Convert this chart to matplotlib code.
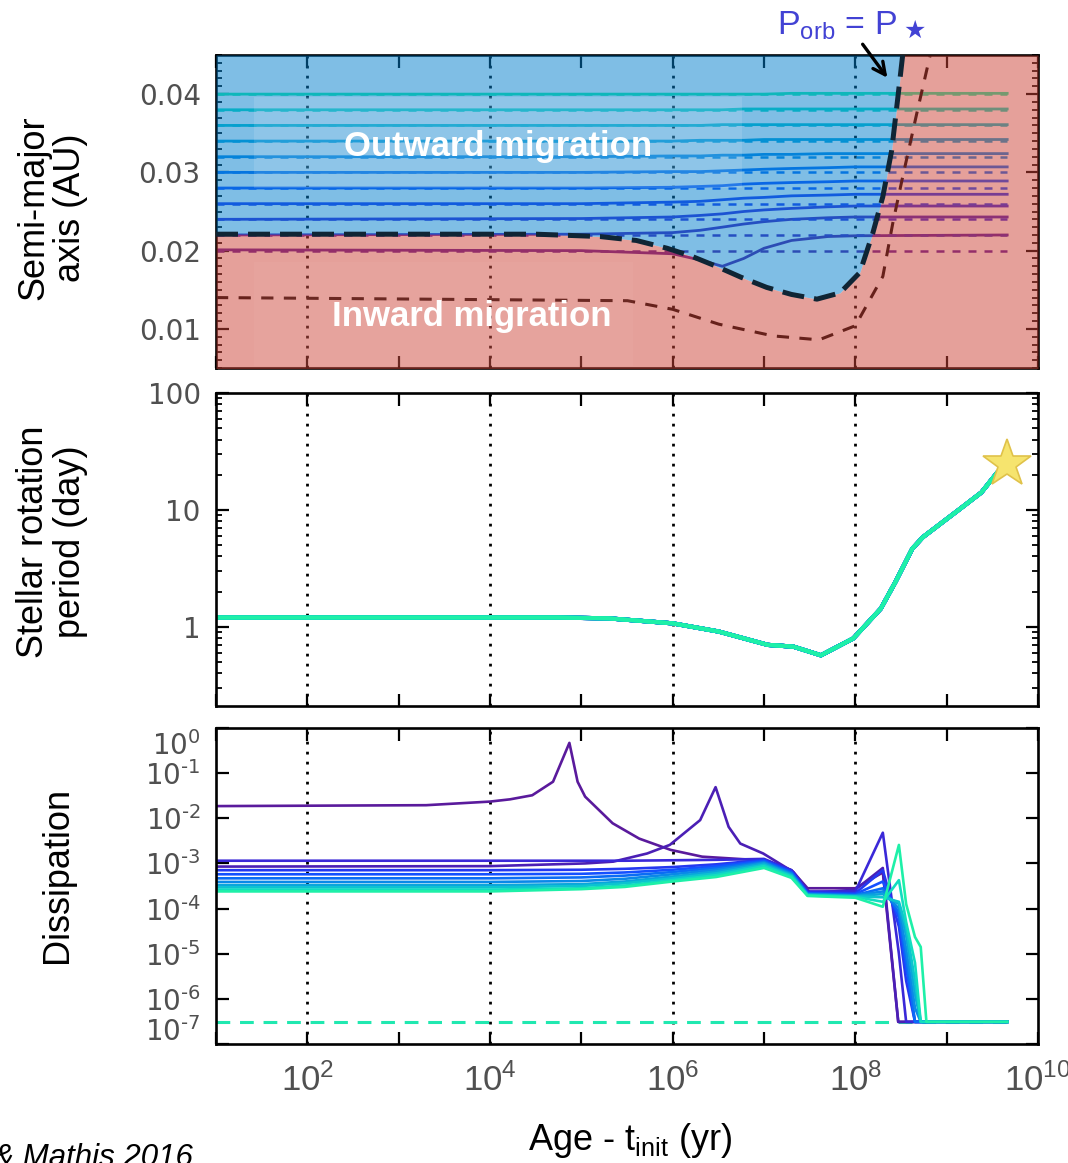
import numpy as np
import matplotlib
matplotlib.use("Agg")
import matplotlib.pyplot as plt
from matplotlib import font_manager as fm
from matplotlib import transforms as mtransforms
from matplotlib.patches import Rectangle, FancyArrowPatch
from matplotlib.ticker import (FixedLocator, FuncFormatter, MultipleLocator,
                               LogLocator, NullFormatter, NullLocator)


def first_font(*names):
    for name in names:
        try:
            fm.findfont(fm.FontProperties(family=name), fallback_to_default=False)
            return name
        except ValueError:
            continue
    return "DejaVu Sans"


SANS = first_font("Liberation Sans", "Arial", "DejaVu Sans")
NARROW = first_font("Liberation Sans Narrow", "Liberation Sans", "DejaVu Sans")
TICKFONT = "DejaVu Sans"

# ---------------------------------------------------------------- data
# initial semi-major axes of the planets (AU), innermost to outermost
a_init = [0.020, 0.022, 0.024, 0.026, 0.028, 0.030, 0.032, 0.034, 0.036, 0.038, 0.040]
planet_colors = ["#5A1A9C", "#4B1FB5", "#3A28D8", "#2438F0", "#1450FF", "#0A6CF5",
                 "#0A88E8", "#0AA5DC", "#0CC3D0", "#12DDC0", "#1EF0A8"]

# semi-major axis evolution with the dynamical tide (AU)
orbit_age = [1e1, 1e5, 1e6, 2e6, 3.5e6, 6e6, 1e7, 2e7, 5e7, 1e8, 4.6e9]
orbit_a = [
    [0.0201, 0.0200, 0.0196, 0.0188, 0.0180, 0.0190, 0.0203, 0.0213, 0.0218, 0.0219, 0.0220],
    [0.0220, 0.0221, 0.0223, 0.0226, 0.0230, 0.0234, 0.0237, 0.0240, 0.0242, 0.0243, 0.0243],
    [0.0240, 0.0241, 0.0243, 0.0245, 0.0247, 0.0250, 0.0252, 0.0254, 0.0256, 0.0257, 0.0257],
    [0.0260, 0.0260, 0.0262, 0.0263, 0.0265, 0.0267, 0.0268, 0.0270, 0.0271, 0.0272, 0.0272],
    [0.0280, 0.0280, 0.0281, 0.0282, 0.0283, 0.0285, 0.0286, 0.0287, 0.0288, 0.0289, 0.0289],
    [0.0300, 0.0300, 0.0301, 0.0301, 0.0302, 0.0303, 0.0304, 0.0305, 0.0306, 0.0307, 0.0307],
    [0.0320, 0.0320, 0.0321, 0.0321, 0.0322, 0.0322, 0.0323, 0.0323, 0.0324, 0.0324, 0.0324],
    [0.0340, 0.0340, 0.0340, 0.0341, 0.0341, 0.0341, 0.0342, 0.0342, 0.0342, 0.0342, 0.0342],
    [0.0360, 0.0360, 0.0360, 0.0360, 0.0361, 0.0361, 0.0361, 0.0361, 0.0361, 0.0361, 0.0361],
    [0.0380, 0.0380, 0.0380, 0.0380, 0.0380, 0.0381, 0.0381, 0.0381, 0.0381, 0.0381, 0.0381],
    [0.0400, 0.0400, 0.0400, 0.0400, 0.0400, 0.0400, 0.0400, 0.0401, 0.0401, 0.0401, 0.0401],
]
flat_age = [1e1, 4.6e9]

# corotation radius (P_orb = P_star), edge of the outward-migration region
corot_age = [1e1, 3.2e4, 1.6e5, 4e5, 8.7e5, 1.6e6, 3e6, 5.6e6, 1.07e7, 2e7, 3.8e7,
             6.8e7, 1.12e8, 1.55e8, 2e8, 2.5e8, 2.95e8, 3.3e8]
corot_a = [0.0221, 0.0221, 0.0218, 0.0213, 0.0203, 0.0193, 0.0180, 0.0166, 0.0153,
           0.0144, 0.0138, 0.0146, 0.0172, 0.0222, 0.0269, 0.0328, 0.0400, 0.0450]

# second reference orbit (thin dashed)
inner_age = [1e1, 3.2e5, 1e6, 3.2e6, 1.26e7, 4e7, 1e8, 2e8, 2.57e8, 3.24e8, 4.7e8, 6.6e8]
inner_a = [0.0140, 0.0136, 0.0125, 0.0106, 0.0091, 0.0086, 0.0104, 0.0167, 0.0235,
           0.0290, 0.0375, 0.0450]

# stellar rotation period (days)
period_age = [1e1, 5.6e4, 2e5, 1e6, 3.2e6, 1.1e7, 2.1e7, 4.2e7, 9.5e7, 1.9e8, 2.75e8,
              4.2e8, 5.5e8, 1.4e9, 2.4e9, 3.6e9, 4.6e9]
period_days = [1.2, 1.2, 1.18, 1.07, 0.91, 0.70, 0.676, 0.57, 0.795, 1.43, 2.42,
               4.65, 5.85, 10.2, 14.1, 21.0, 24.5]

# tidal dissipation, stored as log10 exponents
diss_age_a = [1e1, 2e3, 1e4, 1.66e4, 2.9e4, 4.9e4, 7.4e4, 9.1e4, 1.1e5, 2.2e5, 4.3e5,
              9.5e5, 2.1e6, 6.3e6, 1e7, 2e7, 3e7, 1e8, 2e8, 2.95e8, 4.6e9]
diss_exp_a = [-1.73, -1.71, -1.63, -1.58, -1.49, -1.19, -0.33, -1.19, -1.52, -2.11, -2.45,
              -2.70, -2.85, -2.91, -2.92, -3.15, -3.55, -3.55, -3.20, -6.51, -6.51]
diss_age_b = [1e1, 1e4, 1.1e5, 2.24e5, 5.25e5, 9.3e5, 2e6, 2.95e6, 4.1e6, 5.5e6, 9.8e6,
              2.1e7, 3.2e7, 1e8, 2e8, 2.95e8, 4.6e9]
diss_exp_b = [-3.07, -3.06, -3.00, -2.96, -2.78, -2.59, -2.04, -1.31, -2.19, -2.56, -2.78,
              -3.19, -3.66, -3.58, -3.10, -6.51, -6.51]
diss_age = [1e1, 1e4, 1e5, 3e5, 1e6, 3e6, 1e7, 2e7, 3e7, 1e8, 2e8, 3e8, 3.6e8, 4.5e8,
            5.2e8, 6e8, 4.6e9]
diss_exp = [
    [-2.94, -2.94, -2.94, -2.94, -2.93, -2.92, -2.90, -3.15, -3.62, -3.62, -2.32, -5.00, -6.51, -6.51, -6.51, -6.51, -6.51],
    [-3.15, -3.15, -3.14, -3.12, -3.08, -3.02, -2.92, -3.17, -3.64, -3.66, -3.15, -4.40, -5.60, -6.51, -6.51, -6.51, -6.51],
    [-3.24, -3.24, -3.23, -3.20, -3.14, -3.06, -2.94, -3.19, -3.66, -3.68, -3.40, -4.20, -5.30, -6.51, -6.51, -6.51, -6.51],
    [-3.33, -3.33, -3.31, -3.27, -3.19, -3.10, -2.96, -3.21, -3.67, -3.70, -3.55, -4.10, -5.10, -6.51, -6.51, -6.51, -6.51],
    [-3.41, -3.41, -3.39, -3.34, -3.24, -3.14, -2.98, -3.23, -3.68, -3.71, -3.62, -4.00, -4.90, -6.20, -6.51, -6.51, -6.51],
    [-3.48, -3.48, -3.46, -3.40, -3.29, -3.18, -3.00, -3.25, -3.69, -3.72, -3.68, -3.90, -4.60, -5.90, -6.51, -6.51, -6.51],
    [-3.53, -3.53, -3.50, -3.44, -3.33, -3.22, -3.03, -3.27, -3.70, -3.73, -3.75, -3.85, -4.40, -5.60, -6.51, -6.51, -6.51],
    [-3.58, -3.58, -3.55, -3.49, -3.37, -3.26, -3.06, -3.29, -3.71, -3.74, -3.85, -3.37, -4.30, -5.20, -6.51, -6.51, -6.51],
    [-3.62, -3.62, -3.57, -3.52, -3.40, -3.30, -3.10, -3.32, -3.72, -3.76, -3.96, -2.59, -3.90, -4.63, -4.85, -6.51, -6.51],
]
eq_diss_exp = -6.51

grid_ages = [1e2, 1e4, 1e6, 1e8]
decades = list(range(1, 11))

# ---------------------------------------------------------------- layout
W, H = 1068, 1163
fig = plt.figure(figsize=(W / 100, H / 100), dpi=100)
plt.rcParams["mathtext.default"] = "regular"


def rect(x0, y0, x1, y1):
    return [x0 / W, 1 - y1 / H, (x1 - x0) / W, (y1 - y0) / H]


def power_label(v):
    e = int(round(np.log10(v)))
    sign = "\u2010" if e < 0 else ""
    return r"$\mathregular{10^{%s%d}}$" % (sign, abs(e))


ax1 = fig.add_axes(rect(216, 55, 1038, 368))
ax2 = fig.add_axes(rect(216, 393, 1038, 706))
ax3 = fig.add_axes(rect(216, 728, 1038, 1044))

GRAY = "#505050"
for ax in (ax1, ax2, ax3):
    ax.set_xscale("log")
    ax.set_xlim(1e1, 1e10)
    ax.xaxis.set_major_locator(FixedLocator([10.0 ** d for d in decades]))
    ax.xaxis.set_minor_locator(NullLocator())
    for s in ax.spines.values():
        s.set_linewidth(1.9)
    ax.tick_params(which="major", direction="in", length=9, width=1.6, top=True,
                   right=True, labelsize=20, labelcolor=GRAY, pad=11,
                   labelfontfamily=TICKFONT)
    ax.tick_params(which="minor", direction="in", length=4.5, width=1.3, top=True,
                   right=True)
    for g in grid_ages:
        ax.axvline(g, color="black", lw=2.0, dashes=(1, 2.6), zorder=1)

ax1.tick_params(axis="x", labelbottom=False)
ax2.tick_params(axis="x", labelbottom=False)

# ---------------------------------------------------------------- top panel
YBOT, YTOP = 0.005, 0.045
ax1.set_ylim(YBOT, YTOP)
ax1.yaxis.set_major_locator(FixedLocator([0.01, 0.02, 0.03, 0.04]))
ax1.yaxis.set_major_formatter(FuncFormatter(lambda v, _: "%.2f" % v))
ax1.yaxis.set_minor_locator(MultipleLocator(0.001))

for a0, ages_a, col in zip(a_init, orbit_a, planet_colors):
    ax1.plot(flat_age, [a0, a0], color=col, lw=1.8, dashes=(3.2, 3.2), zorder=2)
    ax1.plot(orbit_age, ages_a, color=col, lw=2.0, zorder=2)
ax1.plot(inner_age, inner_a, color="black", lw=2.2, dashes=(4, 3.4), zorder=2)

ax1.fill_between(corot_age, corot_a, YTOP, color="#007FCD", alpha=0.5, lw=0, zorder=3)
ax1.fill_between(corot_age + [1e10], YBOT - 0.01, corot_a + [YTOP], color="#CD4337",
                 alpha=0.5, lw=0, zorder=3)
ax1.plot(corot_age, corot_a, color="#0F2535", lw=3.6, dashes=(4.4, 2.0), zorder=4)

ax1.add_patch(Rectangle((0.046, 0.575), 0.594, 0.291, transform=ax1.transAxes,
                        facecolor="white", alpha=0.12, lw=0, zorder=4))
ax1.add_patch(Rectangle((0.046, 0.006), 0.461, 0.333, transform=ax1.transAxes,
                        facecolor="white", alpha=0.04, lw=0, zorder=4))
ax1.text(0.343, 0.709, "Outward migration", transform=ax1.transAxes, ha="center",
         va="center", color="white", fontsize=25, fontweight="bold", family=SANS, zorder=5)
ax1.text(0.311, 0.163, "Inward migration", transform=ax1.transAxes, ha="center",
         va="center", color="white", fontsize=25, fontweight="bold", family=SANS, zorder=5)

# ---------------------------------------------------------------- middle panel
ax2.set_yscale("log")
ax2.set_ylim(0.21, 100)
ax2.yaxis.set_major_locator(FixedLocator([1, 10, 100]))
ax2.yaxis.set_major_formatter(FuncFormatter(lambda v, _: "%g" % v))
ax2.yaxis.set_minor_locator(LogLocator(base=10, subs=np.arange(2, 10)))
ax2.yaxis.set_minor_formatter(NullFormatter())
for col in planet_colors:
    ax2.plot(period_age, period_days, color=col, lw=3.0, zorder=2)
ax2.plot(period_age[-1], period_days[-1], marker="*", ms=36, mfc="#F6E46E",
         mec="#E0C24A", mew=1.2, zorder=5, clip_on=False)

# ---------------------------------------------------------------- bottom panel
ax3.set_yscale("log")
ax3.set_ylim(1e-7, 1)
ax3.yaxis.set_major_locator(FixedLocator([10.0 ** e for e in range(-7, 1)]))
ax3.yaxis.set_minor_locator(NullLocator())
ax3.yaxis.set_major_formatter(FuncFormatter(lambda v, _: power_label(v)))
ax3.xaxis.set_major_formatter(
    FuncFormatter(lambda v, _: power_label(v) if round(np.log10(v)) % 2 == 0 else ""))
ax3.tick_params(axis="x", labelsize=25, labelfontfamily=NARROW, pad=14)

ax3.plot(flat_age, [10.0 ** eq_diss_exp] * 2, color="#20E8B0", lw=2.2,
         dashes=(4.5, 3.2), zorder=2)
ax3.plot(diss_age_a, 10.0 ** np.array(diss_exp_a), color=planet_colors[0], lw=1.9, zorder=2)
ax3.plot(diss_age_b, 10.0 ** np.array(diss_exp_b), color=planet_colors[1], lw=1.9, zorder=2)
for exps, col in zip(diss_exp, planet_colors[2:]):
    ax3.plot(diss_age, 10.0 ** np.array(exps), color=col, lw=1.9, zorder=2)

yt = ax3.yaxis.get_major_ticks()
yt[0].label1.set_transform(yt[0].label1.get_transform()
                           + mtransforms.ScaledTranslation(0, 0.15, fig.dpi_scale_trans))
yt[-1].label1.set_transform(yt[-1].label1.get_transform()
                            + mtransforms.ScaledTranslation(0, -0.15, fig.dpi_scale_trans))

# ---------------------------------------------------------------- labels
def px(x, y):
    return x / W, 1 - y / H


fig.text(*px(52, 208), "Semi-major\naxis (AU)", rotation=90, ha="center", va="center",
         ma="center", fontsize=26, family=SANS, linespacing=1.05)
fig.text(*px(52, 542), "Stellar rotation\nperiod (day)", rotation=90, ha="center",
         va="center", ma="center", fontsize=26, family=SANS, linespacing=1.05)
fig.text(*px(57, 875), "Dissipation", rotation=90, ha="center", va="center",
         fontsize=26, family=SANS)
fig.text(*px(630, 1140), r"Age - $\mathregular{t_{init}}$ (yr)", ha="center",
         va="center", fontsize=26, family=SANS)
fig.text(*px(193, 1166), "Bolmont & Mathis 2016", ha="right", va="baseline",
         fontsize=22.5, style="italic", family=SANS)

fig.text(*px(777, 35), r"$\mathregular{P_{orb}}$ = P", ha="left", va="baseline",
         fontsize=24.5, family=SANS, color="#4242D4")
fig.text(*px(903, 38), "\u2605", ha="left", va="baseline", fontsize=18,
         family="DejaVu Sans", color="#4242D4")
fig.add_artist(FancyArrowPatch(
    px(861, 42), px(889, 80), transform=fig.transFigure, arrowstyle="->",
    mutation_scale=22, lw=2.4, color="black"))

fig.savefig("out.png", dpi=100)
